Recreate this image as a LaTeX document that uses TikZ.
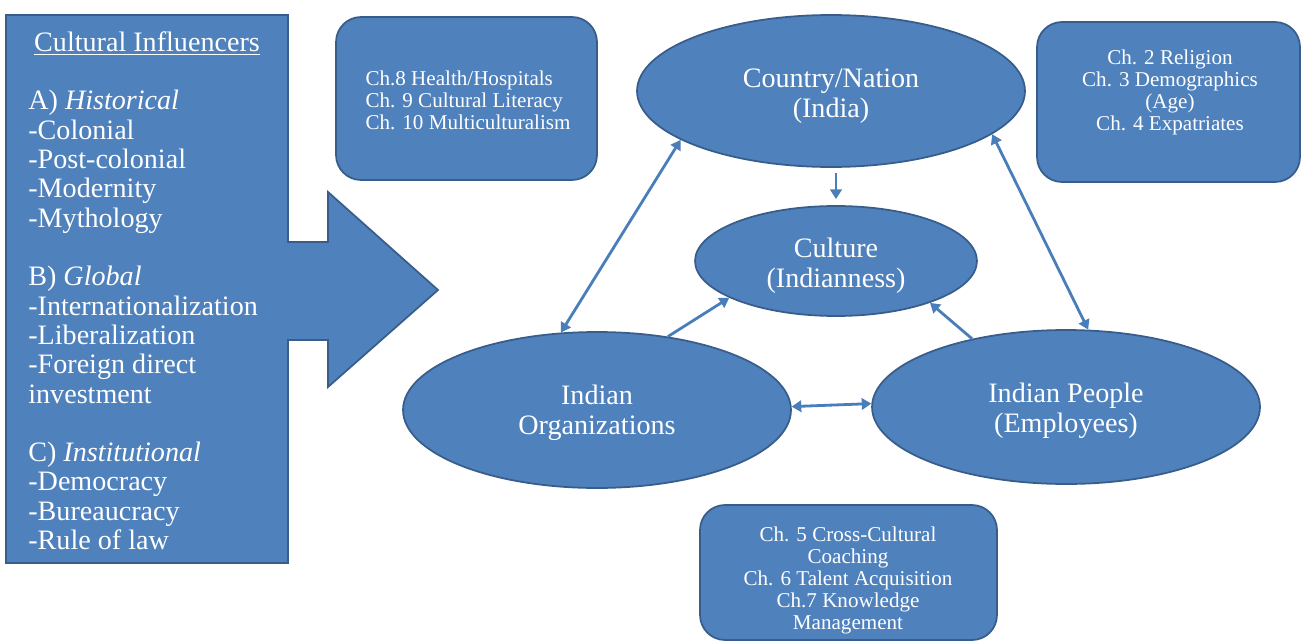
\documentclass[tikz,border=0pt]{standalone}
\usepackage{fontspec}
\setmainfont{Liberation Serif}
\usetikzlibrary{shapes.geometric,arrows.meta,calc}
\definecolor{boxfill}{HTML}{4F81BD}
\definecolor{boxline}{HTML}{385D8A}
\definecolor{linkblue}{HTML}{4A7EBB}

\begin{document}
\begin{tikzpicture}[x=0.02cm,y=-0.02cm,
  shapebox/.style={fill=boxfill, draw=boxline, line width=1pt},
  oval/.style={shapebox, ellipse, inner sep=0pt},
  ovaltext/.style={text=white, inner sep=0pt, align=center,
    font=\fontsize{16}{17}\selectfont},
  chapbox/.style={shapebox, rounded corners=0.5cm, inner sep=0pt},
  chaptext/.style={text=white, inner sep=0pt, font=\fontsize{12}{12.5}\selectfont},
  listline/.style={text=white, inner sep=0pt, anchor=base west,
    font=\fontsize{16}{16.6}\selectfont},
  link/.style={draw=linkblue, line width=1.6pt},
  >={Triangle[length=5.5pt,width=6.5pt]}
]
\useasboundingbox (0,0) rectangle (1304,642);

% block arrow of cultural influencers
\path[shapebox, line join=miter]
  (6,15) -- (288,15) -- (288,242) -- (328,242) -- (328,192) -- (438,290)
  -- (328,387) -- (328,340) -- (288,340) -- (288,563) -- (6,563) -- cycle;

\node[text=white, inner sep=0pt, anchor=base, font=\fontsize{16}{16.6}\selectfont]
  (title) at (147,52) {\underline{Cultural Influencers}};
\foreach \r/\t in {0/{A) \textit{Historical}}, 1/-Colonial, 2/-Post-colonial,
    3/-Modernity, 4/-Mythology, 6/{B) \textit{Global}}, 7/-Internationalization,
    8/-Liberalization, 9/-Foreign direct, 10/investment,
    12/{C) \textit{Institutional}}, 13/-Democracy, 14/-Bureaucracy, 15/-Rule of law}
  \node[listline] (inf\r) at (28,110+29.3*\r) {\t};

% chapter boxes
\node[chapbox, minimum width=5.22cm, minimum height=3.26cm] (boxA) at (466.5,98.5) {};
\node[chaptext, align=left] (txtA) at (468,100)
  {Ch.8 Health/Hospitals\\Ch. 9 Cultural Literacy\\Ch. 10 Multiculturalism};

\node[chapbox, minimum width=5.26cm, minimum height=3.2cm] (boxB) at (1168.5,102) {};
\node[chaptext, align=center] (txtB) at (1170,92)
  {Ch. 2 Religion\\Ch. 3 Demographics\\(Age)\\Ch. 4 Expatriates};

\node[chapbox, minimum width=5.94cm, minimum height=2.7cm] (boxC) at (848.5,572.5) {};
\node[chaptext, align=center] (txtC) at (848,580.5)
  {Ch. 5 Cross-Cultural\\Coaching\\Ch. 6 Talent Acquisition\\Ch.7 Knowledge\\Management};

% ellipses and their labels
\node[oval, minimum width=7.76cm, minimum height=3.04cm] (country) at (831,91) {};
\node[ovaltext] (countryT) at (831,96) {Country/Nation\\(India)};
\node[oval, minimum width=5.64cm, minimum height=2.2cm] (culture) at (836,261) {};
\node[ovaltext] (cultureT) at (836,265.5) {Culture\\(Indianness)};
\node[oval, minimum width=7.76cm, minimum height=3.12cm] (org) at (597,410) {};
\node[ovaltext] (orgT) at (597,413) {Indian\\Organizations};
\node[oval, minimum width=7.76cm, minimum height=3.08cm] (people) at (1066,407) {};
\node[ovaltext] (peopleT) at (1066,410.5) {Indian People\\(Employees)};

% connectors
\draw[link,->, shorten <=2.8pt, shorten >=3.4pt]
  (culture.north |- country.south) -- (culture.north);
\draw[link,<->] (country.198) -- (org.115);
\draw[link,<->] (country.345.5) -- (people.74);
\draw[link,->] (org.46.6) -- (culture.199.8);
\draw[link,->] (people.144.3) -- (culture.336.4);
\draw[link,<->] (org.1.5) -- (people.179.4);
\end{tikzpicture}
\end{document}
